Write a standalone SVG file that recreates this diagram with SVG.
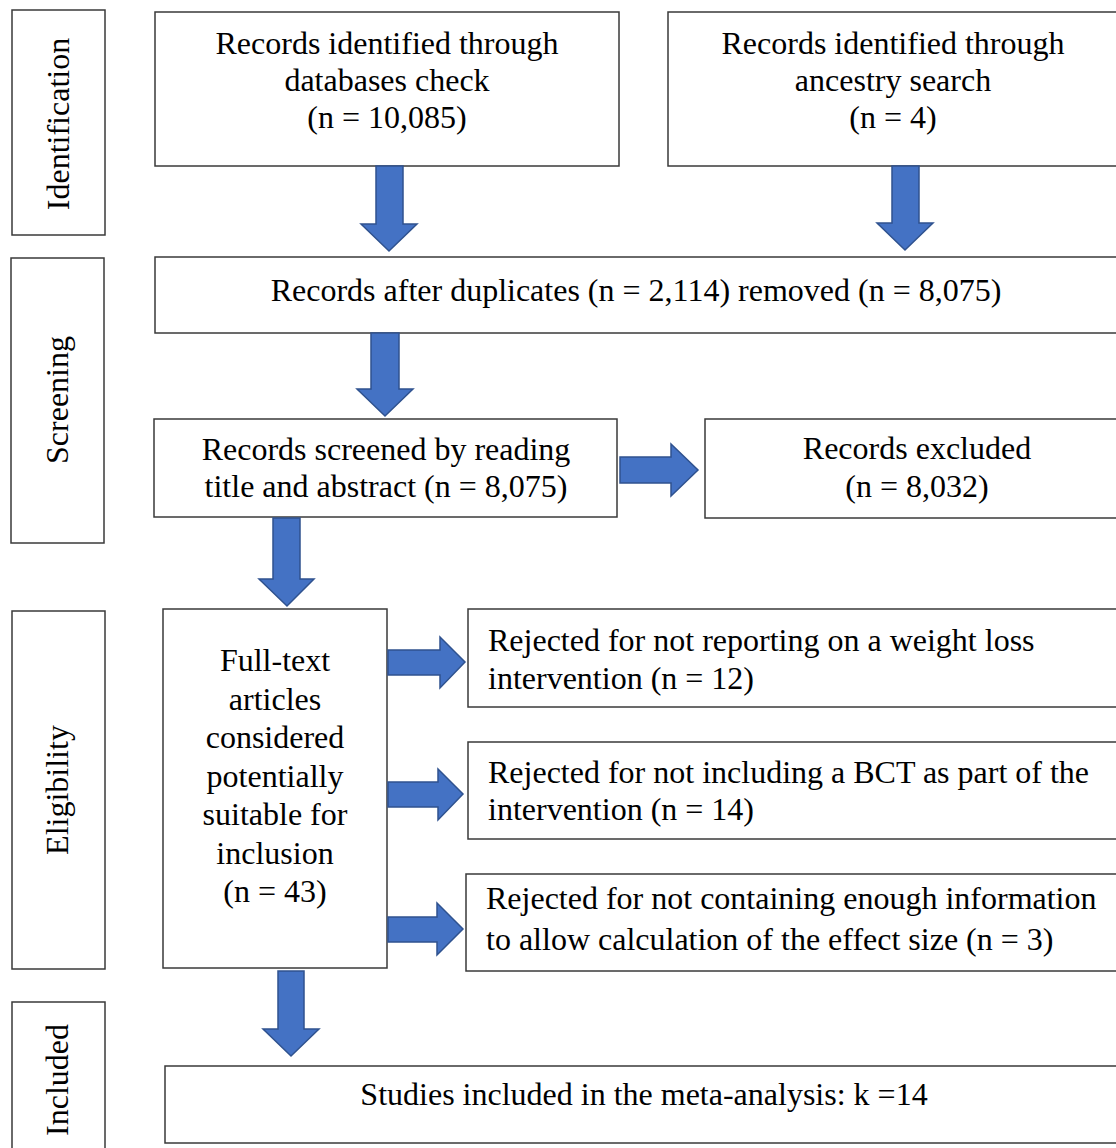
<svg xmlns="http://www.w3.org/2000/svg" width="1116" height="1148" viewBox="0 0 1116 1148">
<style>
.box{fill:#fff;stroke:#3a3a3a;stroke-width:1.5}
.t{font-family:"Liberation Serif","Times New Roman",serif;font-size:32px;fill:#000}
.c{text-anchor:middle}
.arr{fill:#4472C4;stroke:#2F528F;stroke-width:1.5;stroke-linejoin:miter}
</style>
<rect width="1116" height="1148" fill="#fff"/>
<g id="stage-identification"><rect class="box" x="12" y="10" width="93" height="225"/><text class="t c" transform="translate(69,124) rotate(-90)">Identification</text></g>
<g id="stage-screening"><rect class="box" x="11" y="258" width="93" height="285"/><text class="t c" transform="translate(68,400) rotate(-90)">Screening</text></g>
<g id="stage-eligibility"><rect class="box" x="12" y="611" width="93" height="358"/><text class="t c" transform="translate(68,790) rotate(-90)">Eligibility</text></g>
<g id="stage-included"><rect class="box" x="12" y="1002" width="93" height="160"/><text class="t c" transform="translate(68,1080) rotate(-90)">Included</text></g>

<g id="n-databases"><rect class="box" x="155" y="12" width="464" height="154"/>
<text class="t c" x="387" y="54">Records identified through</text>
<text class="t c" x="387" y="91">databases check</text>
<text class="t c" x="387" y="128">(n = 10,085)</text></g>
<g id="n-ancestry"><rect class="box" x="668" y="12" width="451" height="154"/>
<text class="t c" x="893" y="54">Records identified through</text>
<text class="t c" x="893" y="91">ancestry search</text>
<text class="t c" x="893" y="128">(n = 4)</text></g>
<g id="n-duplicates"><rect class="box" x="155" y="257" width="962" height="76"/>
<text class="t c" x="636" y="301">Records after duplicates (n = 2,114) removed (n = 8,075)</text></g>
<g id="n-screened"><rect class="box" x="154" y="419" width="463" height="98"/>
<text class="t c" x="386" y="460">Records screened by reading</text>
<text class="t c" x="386" y="497">title and abstract (n = 8,075)</text></g>
<g id="n-excluded"><rect class="box" x="705" y="419" width="424" height="99"/>
<text class="t c" x="917" y="459">Records excluded</text>
<text class="t c" x="917" y="497">(n = 8,032)</text></g>
<g id="n-fulltext"><rect class="box" x="163" y="609" width="224" height="359"/>
<text class="t c" x="275" y="671">Full-text</text>
<text class="t c" x="275" y="710">articles</text>
<text class="t c" x="275" y="748">considered</text>
<text class="t c" x="275" y="787">potentially</text>
<text class="t c" x="275" y="825">suitable for</text>
<text class="t c" x="275" y="864">inclusion</text>
<text class="t c" x="275" y="902">(n = 43)</text></g>
<g id="n-rej1"><rect class="box" x="468" y="609" width="660" height="98"/>
<text class="t" x="488" y="651">Rejected for not reporting on a weight loss</text>
<text class="t" x="488" y="689">intervention (n = 12)</text></g>
<g id="n-rej2"><rect class="box" x="468" y="742" width="660" height="97"/>
<text class="t" x="488" y="783">Rejected for not including a BCT as part of the</text>
<text class="t" x="488" y="820">intervention (n = 14)</text></g>
<g id="n-rej3"><rect class="box" x="466" y="874" width="660" height="97"/>
<text class="t" x="486" y="909">Rejected for not containing enough information</text>
<text class="t" x="486" y="950">to allow calculation of the effect size (n = 3)</text></g>
<g id="n-included"><rect class="box" x="165" y="1066" width="958" height="77"/>
<text class="t c" x="644" y="1105">Studies included in the meta-analysis: k =14</text></g>

<g id="connectors">
<polygon class="arr" points="376,166 403,166 403,224 417,224 389,251 361,224 376,224"/>
<polygon class="arr" points="892,166 919,166 919,223 933,223 905,250 877,223 892,223"/>
<polygon class="arr" points="371,333 399,333 399,389 413,389 385,416 357,389 371,389"/>
<polygon class="arr" points="620,457 671,457 671,444 698,470 671,496 671,483 620,483"/>
<polygon class="arr" points="273,518 300,518 300,579 314,579 287,606 259,579 273,579"/>
<polygon class="arr" points="388,650 440,650 440,637 465,662 440,688 440,675 388,675"/>
<polygon class="arr" points="388,782 438,782 438,769 463,794 438,820 438,807 388,807"/>
<polygon class="arr" points="388,917 437,917 437,903 463,929 437,955 437,942 388,942"/>
<polygon class="arr" points="278,971 304,971 304,1029 319,1029 291,1056 263,1029 278,1029"/>
</g>
</svg>
